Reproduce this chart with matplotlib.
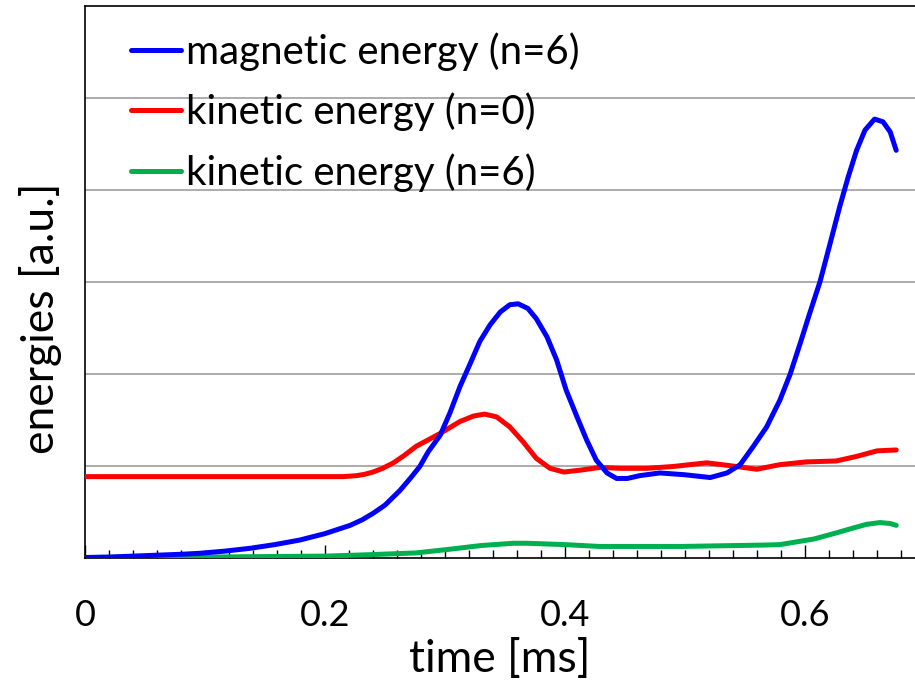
import matplotlib
matplotlib.use("Agg")
import matplotlib.pyplot as plt
from matplotlib.ticker import FixedLocator

# values (time in ms, energies in a.u.)
mag6_t = [0, 0.02, 0.04, 0.06, 0.08, 0.096, 0.117, 0.1375, 0.158, 0.179,
          0.2, 0.221, 0.231, 0.240, 0.25, 0.2625, 0.271, 0.279, 0.286, 0.296,
          0.304, 0.3125, 0.321, 0.329, 0.3375, 0.346, 0.354, 0.361, 0.369, 0.376,
          0.385, 0.393, 0.401, 0.41, 0.418, 0.426, 0.435, 0.443, 0.452, 0.462,
          0.479, 0.50, 0.521, 0.535, 0.546, 0.557, 0.568, 0.579, 0.5875, 0.596,
          0.604, 0.6125, 0.621, 0.629, 0.636, 0.643, 0.65, 0.658, 0.665, 0.671,
          0.676]
mag6_e = [0, 0.005, 0.015, 0.025, 0.035, 0.046, 0.07, 0.10, 0.14, 0.19,
          0.26, 0.35, 0.41, 0.48, 0.57, 0.73, 0.86, 0.99, 1.15, 1.33,
          1.57, 1.86, 2.11, 2.35, 2.53, 2.67, 2.75, 2.76, 2.71, 2.60,
          2.40, 2.15, 1.82, 1.53, 1.28, 1.06, 0.92, 0.86, 0.86, 0.89,
          0.92, 0.90, 0.87, 0.92, 1.01, 1.21, 1.42, 1.71, 1.99, 2.33,
          2.66, 3.00, 3.42, 3.82, 4.14, 4.43, 4.65, 4.77, 4.74, 4.63,
          4.43]

kin0_t = [0, 0.215, 0.226, 0.233, 0.240, 0.248, 0.257, 0.266, 0.276, 0.286,
          0.296, 0.3125, 0.324, 0.333, 0.343, 0.354, 0.365, 0.376, 0.3875, 0.399,
          0.4125, 0.429, 0.446, 0.468, 0.49, 0.518, 0.537, 0.5597, 0.579, 0.601,
          0.626, 0.643, 0.66, 0.676]
kin0_e = [0.88, 0.88, 0.89, 0.905, 0.93, 0.97, 1.03, 1.11, 1.21, 1.28,
          1.35, 1.48, 1.54, 1.56, 1.53, 1.42, 1.26, 1.08, 0.97, 0.93,
          0.95, 0.98, 0.97, 0.97, 0.99, 1.03, 1.00, 0.96, 1.01, 1.04,
          1.05, 1.10, 1.16, 1.17]

kin6_t = [0, 0.1, 0.2, 0.236, 0.276, 0.304, 0.33, 0.357, 0.368, 0.40,
          0.429, 0.496, 0.565, 0.579, 0.593, 0.607, 0.624, 0.64, 0.651, 0.6625,
          0.671, 0.676]
kin6_e = [0, 0.005, 0.015, 0.03, 0.05, 0.09, 0.13, 0.155, 0.155, 0.14,
          0.12, 0.12, 0.135, 0.14, 0.17, 0.20, 0.26, 0.32, 0.36, 0.38,
          0.37, 0.35]

xtick_vals = [0, 0.2, 0.4, 0.6]
xtick_text = ["0", "0.2", "0.4", "0.6"]

plt.rcParams["font.family"] = ["Lato", "DejaVu Sans"]

fig = plt.figure(figsize=(9.15, 6.86), dpi=100)
ax = fig.add_axes([85 / 915, 1 - 557.5 / 686, 830 / 915, 551.5 / 686])

lw = 3.6
ax.plot(mag6_t, mag6_e, color="#0000ff", lw=lw, solid_capstyle="round",
        solid_joinstyle="round", label="magnetic energy (n=6)", zorder=4)
ax.plot(kin0_t, kin0_e, color="#ff0000", lw=lw, solid_capstyle="round",
        solid_joinstyle="round", label="kinetic energy (n=0)", zorder=3)
ax.plot(kin6_t, kin6_e, color="#00b050", lw=lw, solid_capstyle="round",
        solid_joinstyle="round", label="kinetic energy (n=6)", zorder=3)

ax.set_xlim(0, 830 / 1200)
ax.set_ylim(0, 6)

# horizontal grid lines only, no y ticks
ax.yaxis.set_major_locator(FixedLocator([1, 2, 3, 4, 5]))
ax.set_yticklabels([])
ax.tick_params(axis="y", length=0)
ax.grid(axis="y", color="#a6a6a6", lw=1.3)
ax.set_axisbelow(True)

ax.set_xticks(xtick_vals)
ax.set_xticklabels(xtick_text)
ax.xaxis.set_minor_locator(FixedLocator([i * 0.02 for i in range(35)]))
ax.tick_params(axis="x", which="major", direction="in", length=9.5, width=1,
               pad=30, labelsize=26)
ax.tick_params(axis="x", which="minor", direction="in", length=6, width=1)

for s in ["left", "bottom", "top"]:
    ax.spines[s].set_color("black")
    ax.spines[s].set_linewidth(1.2)
ax.spines["right"].set_visible(False)

ax.set_xlabel("time [ms]", fontsize=32, labelpad=5)
ax.set_ylabel("energies [a.u.]", fontsize=32, va="center")
ax.yaxis.set_label_coords(-0.054, 0.434)

ax.legend(loc="upper left", bbox_to_anchor=(0.0554, 0.9526), frameon=False,
          fontsize=29, handlelength=1.24, handletextpad=0.12, borderpad=0,
          borderaxespad=0, labelspacing=0.54)

fig.savefig("out.png", dpi=100)
